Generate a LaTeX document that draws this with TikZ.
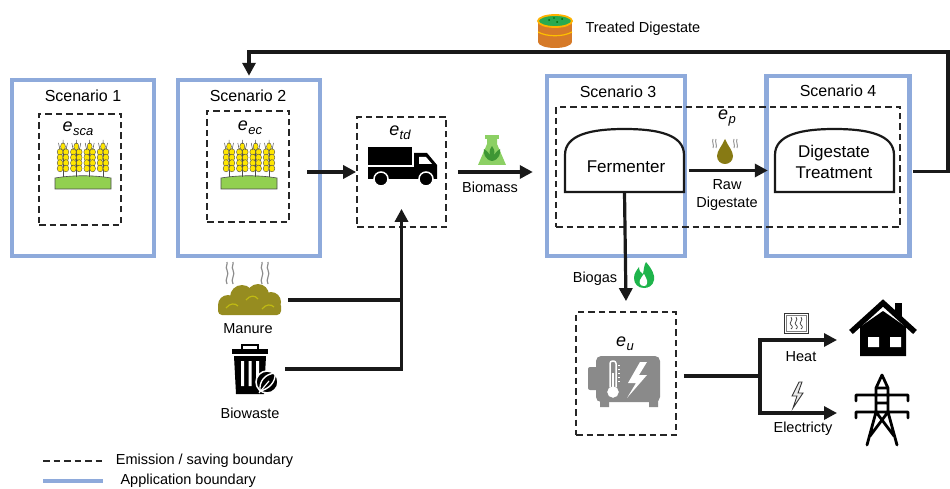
\documentclass[tikz,border=0pt]{standalone}
\usepackage{fontspec}
\setmainfont{Liberation Sans}
\usetikzlibrary{arrows.meta, positioning, calc}

\definecolor{appblue}{RGB}{142,170,219}
\definecolor{grass}{RGB}{146,208,80}
\definecolor{wheat}{RGB}{255,230,0}
\definecolor{manureolive}{RGB}{150,140,32}
\definecolor{dropolive}{RGB}{135,122,20}
\definecolor{flasklight}{RGB}{140,208,100}
\definecolor{flaskdark}{RGB}{62,150,52}
\definecolor{flamegreen}{RGB}{30,180,75}
\definecolor{barrelorange}{RGB}{214,122,40}
\definecolor{barrelgreen}{RGB}{40,170,80}
\definecolor{chpgrey}{RGB}{138,138,138}

% emission label, e with a lowered index
\newcommand{\esub}[1]{e\kern0.3pt\raisebox{-4pt}{\fontsize{13}{13}\selectfont #1}}

\tikzset{
    pics/wheatfield/.style={code={
        \fill[grass, draw=black!70, line width=0.6pt] (-28,23) -- (-28,12) .. controls (-10,9) and (10,9) .. (28,12) -- (28,23) -- cycle;
        \foreach \sx in {-20,-6.7,6.7,20} {
            \draw[black!70, line width=0.9pt] (\sx,-20) -- (\sx,11);
            \foreach \gy in {-14,-8.5,-3,2.5} {
                \filldraw[fill=wheat, draw=black!70, line width=0.4pt] (\sx-2.9,\gy) ellipse[x radius=2.9, y radius=3.4];
                \filldraw[fill=wheat, draw=black!70, line width=0.4pt] (\sx+2.9,\gy) ellipse[x radius=2.9, y radius=3.4];
            }
            \filldraw[fill=wheat, draw=black!70, line width=0.4pt] (\sx,-19.5) ellipse[x radius=2.4, y radius=3.7];
            \draw[black!70, line width=0.5pt] (\sx-3,-16) -- (\sx-4.5,-23) (\sx+3,-16) -- (\sx+4.5,-23) (\sx,-22) -- (\sx,-26);
        }
    }},
    pics/truck/.style={code={
        \fill[black] (-34,-19) rectangle (10,-1);
        \fill[black] (-34,1) rectangle (35,13);
        \fill[black] (12,-13) -- (25,-13) -- (35,-1) -- (35,13) -- (12,13) -- cycle;
        \fill[white] (17,-9) -- (24,-9) -- (30,-2) -- (17,-2) -- cycle;
        \filldraw[fill=black, draw=white, line width=1.5pt] (-21,13) circle (7) (24,13) circle (7);
    }},
    pics/flask/.style={code={
        \fill[flasklight] (-7,-15) rectangle (7,-11);
        \fill[flasklight] (-5,-12) -- (5,-12) -- (5,-6) -- (14,15) -- (-14,15) -- (-5,-6) -- cycle;
        \fill[flaskdark] (0,11) .. controls (-7,10) and (-9,3) .. (-8,-1) .. controls (-5,1) and (-3,3) .. (-2,5)
            .. controls (-3,1) and (-2,-2) .. (0,-4) .. controls (2,-2) and (3,1) .. (2,5)
            .. controls (3,3) and (5,1) .. (8,-1) .. controls (9,3) and (7,10) .. (0,11) -- cycle;
    }},
    pics/manure/.style={code={
        \fill[manureolive] (-22,5) circle (10) (-8,-3) circle (12) (8,-5) circle (11) (21,2) circle (10);
        \fill[manureolive, rounded corners=4pt] (-32,2) rectangle (31,15);
        \draw[manureolive!60!yellow, line width=1.2pt] (-24,8) .. controls (-20,3) and (-15,3) .. (-12,6)
            (-4,0) .. controls (0,-5) and (5,-5) .. (8,-1) (12,9) .. controls (16,4) and (21,4) .. (24,7);
        \foreach \sx in {-23,-17,12,18}
            \draw[black!45, line width=1.2pt] (\sx,-16) .. controls (\sx-3,-21) and (\sx+3,-25) .. (\sx,-30) .. controls (\sx-2,-33) and (\sx+1,-36) .. (\sx,-38);
    }},
    pics/biobin/.style={code={
        \draw[black, line width=2pt] (-8,-19) -- (-8,-24) -- (8,-24) -- (8,-19);
        \fill[black] (-18,-20) rectangle (18,-15);
        \fill[black] (-16,-13) -- (16,-13) -- (14,25) -- (-14,25) -- cycle;
        \fill[white] (-9,-8) rectangle (-6,17) (-1.5,-8) rectangle (1.5,17) (6,-8) rectangle (9,10);
        \filldraw[fill=black, draw=white, line width=1.5pt] (17,13) circle (11);
        \draw[white, line width=1.4pt] (10,22) .. controls (9,12) and (15,5) .. (25,4) .. controls (26,13) and (19,20) .. (10,22) -- cycle;
        \draw[white, line width=1.2pt] (9,24) -- (19,12);
    }},
    pics/droplet/.style={code={
        \fill[dropolive] (0,-12) .. controls (3,-5) and (8,0) .. (8,5) .. controls (8,10) and (4,13) .. (0,13)
            .. controls (-4,13) and (-8,10) .. (-8,5) .. controls (-8,0) and (-3,-5) .. (0,-12) -- cycle;
        \foreach \sx in {-12,-9,9,12}
            \draw[black!40, line width=1pt] (\sx,-12) .. controls (\sx-1.5,-9) and (\sx+1.5,-6) .. (\sx,-3);
    }},
    pics/barrel/.style={code={
        \fill[barrelorange] (-17,-9) rectangle (17,12);
        \fill[barrelorange] (0,12) ellipse[x radius=17, y radius=6];
        \draw[orange!50!yellow, line width=1.2pt] (-17,2) .. controls (-8,7) and (8,7) .. (17,2);
        \filldraw[fill=barrelgreen, draw=orange!60!yellow, line width=1.8pt] (0,-9) ellipse[x radius=17, y radius=6];
        \fill[black!60!green] (-6,-10) circle (1) (2,-8) circle (1) (7,-11) circle (1) (-1,-12) circle (0.9);
    }},
    pics/flame/.style={code={
        \fill[flamegreen] (2,-13) .. controls (8,-6) and (11,0) .. (10,5) .. controls (9,11) and (4,13) .. (0,13)
            .. controls (-6,13) and (-10,9) .. (-10,3) .. controls (-10,-2) and (-7,-5) .. (-5,-8)
            .. controls (-5,-4) and (-3,-2) .. (-1,-1) .. controls (0,-6) and (0,-10) .. (2,-13) -- cycle;
        \fill[white] (0,11) .. controls (-4,11) and (-5,8) .. (-4,5) .. controls (-3,2) and (-1,1) .. (0,-1)
            .. controls (1,2) and (4,5) .. (3,8) .. controls (3,10) and (2,11) .. (0,11) -- cycle;
    }},
    pics/chp/.style={code={
        \fill[chpgrey, rounded corners=5pt] (-28,-25) rectangle (36,21);
        \fill[chpgrey, rounded corners=2pt] (-36,-14) rectangle (-26,9);
        \fill[chpgrey] (-24,19) rectangle (-15,26) (25,19) rectangle (34,26);
        \draw[white, line width=1.5pt, rounded corners=2.5pt] (-14,6) -- (-14,-20) -- (-8,-20) -- (-8,6);
        \filldraw[fill=white, draw=white] (-11,11) circle (5.5);
        \draw[white, line width=2pt] (-11,10) -- (-11,-8);
        \foreach \ty in {-16,-12,-8,-4,0}
            \draw[white, line width=0.8pt] (-6,\ty) -- (-4,\ty);
        \fill[white] (16,-19) -- (4,2) -- (12,2) -- (3,17) -- (23,-6) -- (15,-6) -- (23,-19) -- cycle;
    }},
    pics/heatsign/.style={code={
        \draw[black!80, line width=0.9pt] (-12,-10) rectangle (12,10);
        \draw[black!50, line width=0.5pt] (-10,-8) rectangle (10,8);
        \foreach \wx in {-5,0,5}
            \draw[black!70, line width=0.8pt] (\wx,-6) .. controls (\wx+3,-3) and (\wx-3,0) .. (\wx,2) .. controls (\wx+3,4) and (\wx,6) .. (\wx,6);
    }},
    pics/boltsign/.style={code={
        \filldraw[fill=black!8, draw=black!80, line width=0.9pt] (2,-13) -- (-5,1) -- (0,1) -- (-4,13) -- (6,-2) -- (1,-2) -- (5,-13) -- cycle;
    }},
    pics/house/.style={code={
        \fill[black] (13,-25) rectangle (20,-10);
        \draw[black, line width=5.5pt] (-31,4) -- (1,-25) -- (33,4);
        \fill[black] (-22,28) -- (-22,-1) -- (1,-17) -- (24,-1) -- (24,28) -- cycle;
        \fill[white] (-14,9) rectangle (-3,19) (8,9) rectangle (19,19);
    }},
    pics/pylon/.style={code={
        \draw[black, line width=2.8pt, line join=round, line cap=round]
            (0,-35) -- (-6,-22) -- (-6,2) -- (-15,35)
            (0,-35) -- (6,-22) -- (6,2) -- (15,35)
            (-26,-9) -- (-26,-15) -- (26,-15) -- (26,-9)
            (-26,8) -- (-26,2) -- (26,2) -- (26,8)
            (-6,-22) -- (6,-22) (-6,-7) -- (6,-7)
            (-6,2) -- (12,26) (6,2) -- (-12,26);
    }},
}

\begin{document}
\begin{tikzpicture}[
        x=1pt, y=-1pt,
        >={Triangle[length=13pt, width=13pt]},
        appbox/.style={draw=appblue, line width=4.4pt, inner sep=0pt},
        emibox/.style={draw=black!85, line width=1.7pt, dash pattern=on 6.5pt off 4pt, inner sep=0pt},
        domebox/.style={minimum width=119pt, minimum height=63pt, inner sep=0pt},
        dome/.style={draw=black!90, line width=2.2pt, fill=white},
        scen/.style={font=\fontsize{16}{18}\selectfont},
        lbl/.style={font=\fontsize{14.5}{17}\selectfont, align=center},
        elbl/.style={font=\fontsize{18}{20}\selectfont\itshape},
        flow/.style={->, line width=3.2pt, black!90},
        feed/.style={line width=3.2pt, black!90},
    ]
    \useasboundingbox (0,0) rectangle (950,489);

    %% Application boundaries
    \node[appbox, minimum width=142pt, minimum height=176pt] (sc1) at (83,168) {};
    \node[appbox, minimum width=142pt, minimum height=176pt] (sc2) at (249,168) {};
    \node[appbox, minimum width=138pt, minimum height=180pt] (sc3) at (616,166) {};
    \node[appbox, minimum width=143pt, minimum height=180pt] (sc4) at (838,166) {};
    \node[scen] (sc1lbl) at (83,96) {Scenario 1};
    \node[scen] (sc2lbl) at (248,96) {Scenario 2};
    \node[scen] (sc3lbl) at (618,92) {Scenario 3};
    \node[scen] (sc4lbl) at (838,91) {Scenario 4};

    %% Emission / saving boundaries
    \node[emibox, minimum width=82pt, minimum height=111pt] (esca) at (80,169.5) {};
    \node[emibox, minimum width=82pt, minimum height=111pt] (eec) at (248,166.5) {};
    \node[emibox, minimum width=89pt, minimum height=110pt] (etd) at (401.5,172) {};
    \node[emibox, minimum width=344pt, minimum height=120pt] (ep) at (728,167) {};
    \node[emibox, minimum width=100pt, minimum height=123pt] (eu) at (626,373.5) {};

    \node[elbl] (escalbl) at (78,129) {\esub{sca}};
    \node[elbl] (eeclbl) at (250,128) {\esub{ec}};
    \node[elbl] (etdlbl) at (400,133) {\esub{td}};
    \node[elbl] (eplbl) at (727,118) {\esub{p}};
    \node[elbl] (eulbl) at (625,344) {\esub{u}};

    %% Crops
    \pic at (83,166) {wheatfield};
    \pic at (249,166) {wheatfield};

    %% Transport
    \pic at (402,166) {truck};
    \pic at (492,150) {flask};
    \node[lbl] (biomasslbl) at (490,187) {Biomass};

    %% Feedstock from outside
    \node[inner sep=0pt, minimum width=76pt, minimum height=40pt] (manure) at (250,300) {};
    \pic at (manure.center) {manure};
    \node[lbl] (manurelbl) at (248,329) {Manure};
    \node[inner sep=0pt, minimum width=70pt, minimum height=50pt] (biowaste) at (250,369) {};
    \pic at (biowaste.center) {biobin};
    \node[lbl] (biowastelbl) at (250,413) {Biowaste};

    %% Fermenter and digestate treatment
    \node[domebox] (ferm) at (624.5,160.5) {};
    \draw[dome] (565,192) -- (565,155) .. controls (565,135) and (590,129) .. (624.5,129)
        .. controls (659,129) and (684,135) .. (684,155) -- (684,192) -- cycle;
    \node[font=\fontsize{17}{21}\selectfont] (fermlbl) at (626,167) {Fermenter};

    \node[domebox] (dtreat) at (834.5,160.5) {};
    \draw[dome] (775,192) -- (775,155) .. controls (775,135) and (800,129) .. (834.5,129)
        .. controls (869,129) and (894,135) .. (894,155) -- (894,192) -- cycle;
    \node[font=\fontsize{17}{21.5}\selectfont, align=center] (dtreatlbl) at (834,162) {Digestate\\Treatment};

    \pic at (725,151) {droplet};
    \node[lbl, font=\fontsize{14.5}{18}\selectfont] (rawlbl) at (727,195) {Raw\\Digestate};

    %% Treated digestate back to the fields
    \pic at (555,30) {barrel};
    \node[lbl, anchor=west] (treatedlbl) at (582,29) {Treated Digestate};
    \coordinate (loopr) at (948,52);

    %% Utilisation
    \pic at (644,275) {flame};
    \node[lbl] (biogaslbl) at (595,279) {Biogas};
    \pic at (624,381) {chp};
    \coordinate (split) at (760,376);
    \coordinate (heatend) at (837,340);
    \coordinate (elecend) at (837,413);
    \pic at (796,323) {heatsign};
    \node[lbl] (heatlbl) at (801,357) {Heat};
    \pic at (797,395) {boltsign};
    \node[lbl] (eleclbl) at (803,429) {Electricty};
    \node[inner sep=0pt, minimum width=66pt, minimum height=56pt] (house) at (882,328) {};
    \pic at (house.center) {house};
    \node[inner sep=0pt, minimum width=54pt, minimum height=72pt] (pylon) at (882,410) {};
    \pic at (pylon.center) {pylon};

    %% Connectors
    \draw[flow] ([xshift=-15pt]sc2.east |- etd.west) -- (etd.west);
    \draw[flow] ([xshift=11pt]etd.east) -- ([xshift=-12pt]sc3.west |- etd.east);
    \draw[feed] (manure.east) -- (manure.east -| etd.south);
    \draw[flow] (biowaste.east) -| ([yshift=19pt]etd.south);
    \draw[flow] ([xshift=5pt,yshift=-10pt]ferm.east) -- ([xshift=-7pt,yshift=-10pt]dtreat.west);
    \draw[flow] ([xshift=19pt,yshift=-11pt]dtreat.east) -| (loopr) -| ([yshift=2pt]sc2.north);
    \draw[flow] (ferm.south) -- ([yshift=10pt]eu.north);
    \draw[feed] ([xshift=7pt,yshift=-2.5pt]eu.east) -- (split);
    \draw[flow] (split) |- (heatend);
    \draw[flow] (split) |- (elecend);

    %% Legend
    \coordinate (legA) at (43,461);
    \coordinate (legB) at (43,481);
    \draw[emibox] (legA) -- ++(60,0) node[lbl, right=12pt, anchor=west] (emilbl) {Emission / saving boundary};
    \draw[draw=appblue, line width=4.4pt] (legB) -- ++(60,0) node[lbl, right=12pt, anchor=west] (applbl) {Application boundary};
\end{tikzpicture}
\end{document}
